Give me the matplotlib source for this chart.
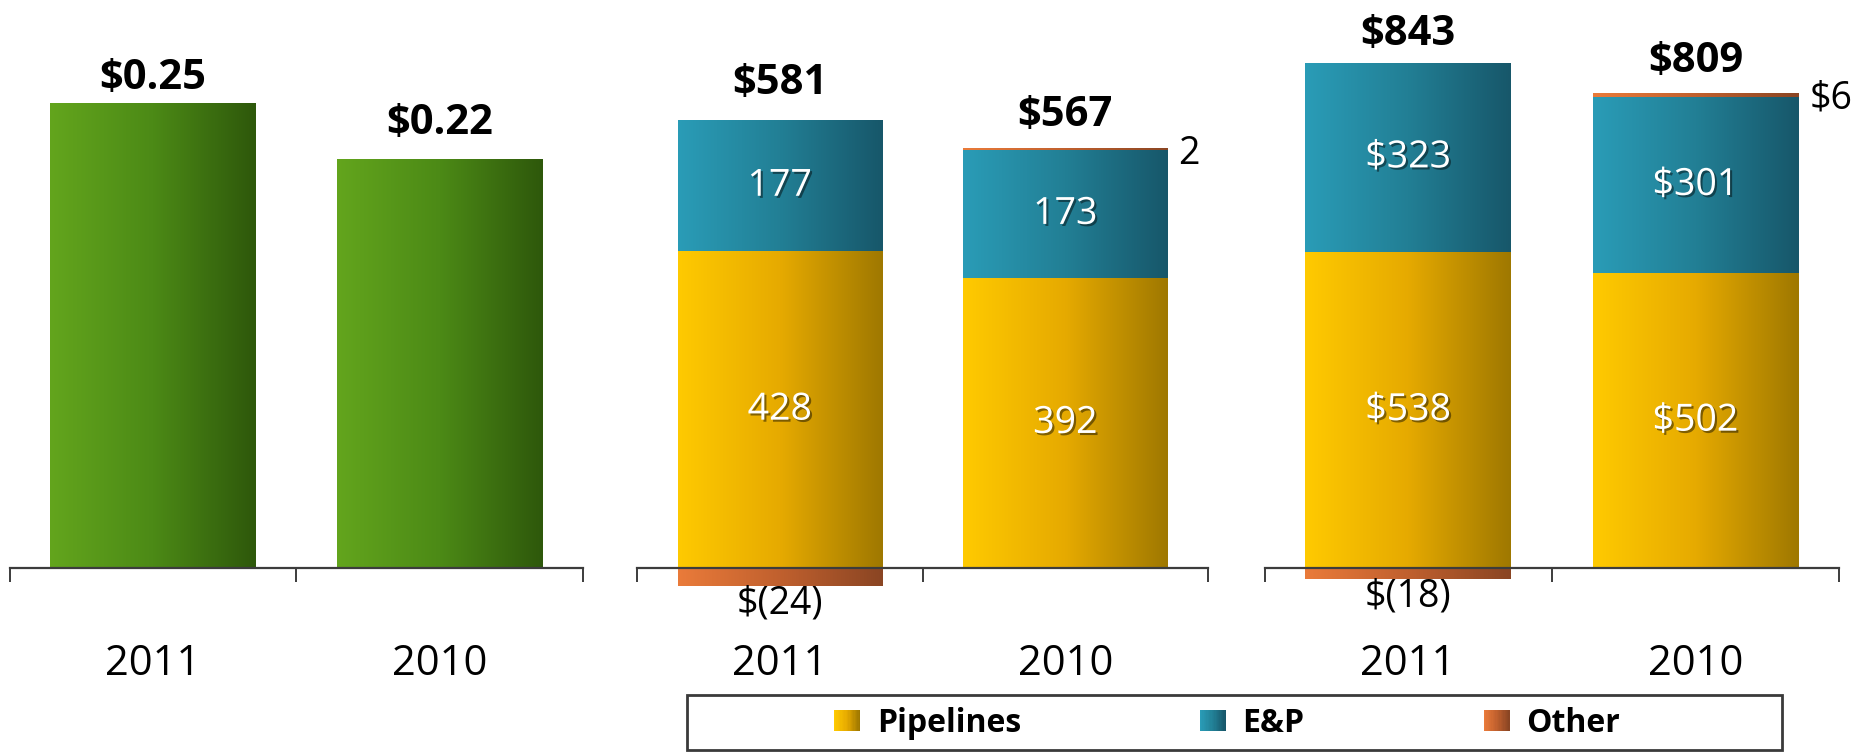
import numpy as np
import matplotlib
matplotlib.use("Agg")
import matplotlib.pyplot as plt
import matplotlib.patheffects as pe
from matplotlib.colors import LinearSegmentedColormap
from matplotlib.patches import Rectangle
from matplotlib.legend_handler import HandlerBase

plt.rcParams['font.family'] = ['Open Sans', 'DejaVu Sans']

# ---------------- data ----------------
years = ["2011", "2010"]
eps_values = [0.25, 0.22]
eps_labels = ["$0.25", "$0.22"]

p2_pipelines = [428, 392]
p2_ep = [177, 173]
p2_other = [-24, 2]
p2_pip_labels = ["428", "392"]
p2_ep_labels = ["177", "173"]
p2_other_labels = ["$(24)", "2"]

p3_pipelines = [538, 502]
p3_ep = [323, 301]
p3_other = [-18, 6]
p3_pip_labels = ["$538", "$502"]
p3_ep_labels = ["$323", "$301"]
p3_other_labels = ["$(18)", "$6"]

legend_labels = ["Pipelines", "E&P", "Other"]

# ---------------- style ----------------
cm_green = LinearSegmentedColormap.from_list("g", ["#63A51D", "#4C8A16", "#2E580B"])
cm_pip = LinearSegmentedColormap.from_list("p", ["#FFCA00", "#E6AA00", "#9F7800"])
cm_ep = LinearSegmentedColormap.from_list("e", ["#2A9CB7", "#227F95", "#17576A"])
cm_oth = LinearSegmentedColormap.from_list("o", ["#EA7B3A", "#C0602E", "#8A4523"])

# label offsets above bar tops (points), per panel
p1_total_offsets = [17.5, 25.5]
p2_total_offsets = [26.5, 24.0]
p3_total_offsets = [20.5, 22.5]

W, H = 1857, 752
fig = plt.figure(figsize=(W / 100, H / 100), dpi=100)

BAR_W = 0.715
zero_px = 184  # axis line pixel height from bottom


def make_axes(left_px, right_px, px_per_unit):
    ax = fig.add_axes([left_px / W, 0, (right_px - left_px) / W, 1])
    ax.set_facecolor("none")
    return ax, (-zero_px / px_per_unit, (H - zero_px) / px_per_unit)


def grad_fill(ax, bars, cmap):
    grad = np.linspace(0, 1, 256).reshape(1, -1)
    for b in bars:
        x0, y0 = b.get_x(), b.get_y()
        w, h = b.get_width(), b.get_height()
        im = ax.imshow(grad, extent=[x0, x0 + w, y0, y0 + h], cmap=cmap,
                       aspect="auto", zorder=b.get_zorder() + 0.1,
                       interpolation="bilinear")
        im.set_clip_path(b)


def finish_axes(ax, ylim):
    ax.set_xlim(-0.5, 1.5)
    ax.set_ylim(*ylim)
    for s in ["left", "right", "top"]:
        ax.spines[s].set_visible(False)
    ax.spines["bottom"].set_position(("data", 0))
    ax.spines["bottom"].set_color("#3c3c3c")
    ax.spines["bottom"].set_linewidth(1.6)
    ax.spines["bottom"].set_zorder(5)
    ax.set_yticks([])
    ax.set_xticks([0, 1])
    ax.set_xticklabels(years, fontsize=30)
    ax.set_xticks([-0.5, 0.5, 1.5], minor=True)
    ax.tick_params(axis="x", which="major", length=0, pad=54)
    ax.tick_params(axis="x", which="minor", length=10, width=1.4,
                   color="#3c3c3c", direction="out")


shadow = [pe.SimplePatchShadow(offset=(1.5, -1.5), shadow_rgbFace="black", alpha=0.45),
          pe.Normal()]

x = np.arange(2)

# ---------------- panel 1 ----------------
ax1, yl1 = make_axes(9.5, 583, 1861.0)
b = ax1.bar(x, eps_values, BAR_W, color="#4C8A16", zorder=2)
grad_fill(ax1, b, cm_green)
for xi, v, lab, off in zip(x, eps_values, eps_labels, p1_total_offsets):
    ax1.annotate(lab, (xi, v), xytext=(0, off), textcoords="offset points",
                 ha="center", va="center", fontsize=30, fontweight="bold")
finish_axes(ax1, yl1)


# ---------------- stacked panels ----------------
def stacked(ax, pip, ep, oth, pip_l, ep_l, oth_l, offs, ylim):
    pip = np.array(pip); ep = np.array(ep); oth = np.array(oth)
    bp = ax.bar(x, pip, BAR_W, color="#E6AA00", zorder=2)
    be = ax.bar(x, ep, BAR_W, bottom=pip, color="#227F95", zorder=2)
    ob = np.where(oth < 0, 0, pip + ep)
    bo = ax.bar(x, oth, BAR_W, bottom=ob, color="#C0602E", zorder=2)
    grad_fill(ax, bp, cm_pip)
    grad_fill(ax, be, cm_ep)
    grad_fill(ax, bo, cm_oth)
    for i in range(2):
        ax.text(x[i], pip[i] / 2, pip_l[i], ha="center", va="center",
                color="white", fontsize=27, zorder=6, path_effects=shadow)
        ax.text(x[i], pip[i] + ep[i] / 2, ep_l[i], ha="center", va="center",
                color="white", fontsize=27, zorder=6, path_effects=shadow)
        top = pip[i] + ep[i] + max(oth[i], 0)
        total = pip[i] + ep[i] + oth[i]
        ax.annotate(f"${total}", (x[i], top), xytext=(0, offs[i]),
                    textcoords="offset points", ha="center", va="center",
                    fontsize=30, fontweight="bold", zorder=6)
        if oth[i] < 0:
            ax.annotate(oth_l[i], (x[i], oth[i]), xytext=(0, 1),
                        textcoords="offset points", ha="center", va="top",
                        fontsize=27, zorder=6)
        else:
            ax.annotate(oth_l[i], (x[i] + BAR_W / 2, top), xytext=(8, -4),
                        textcoords="offset points", ha="left", va="center",
                        fontsize=27, zorder=6)
    finish_axes(ax, ylim)


ax2, yl2 = make_axes(637, 1208, 0.740)
stacked(ax2, p2_pipelines, p2_ep, p2_other, p2_pip_labels, p2_ep_labels,
        p2_other_labels, p2_total_offsets, yl2)

ax3, yl3 = make_axes(1264.5, 1839, 0.587)
stacked(ax3, p3_pipelines, p3_ep, p3_other, p3_pip_labels, p3_ep_labels,
        p3_other_labels, p3_total_offsets, yl3)


# ---------------- legend ----------------
class GradHandler(HandlerBase):
    def create_artists(self, legend, orig_handle, xdescent, ydescent,
                       width, height, fontsize, trans):
        n = 20
        arts = []
        for k in range(n):
            r = Rectangle((-xdescent + width * k / n, -ydescent), width / n + 0.3,
                          height, facecolor=orig_handle.cmap(k / (n - 1)),
                          edgecolor="none", transform=trans)
            arts.append(r)
        return arts


class GradKey:
    def __init__(self, cmap):
        self.cmap = cmap


keys = [GradKey(cm_pip), GradKey(cm_ep), GradKey(cm_oth)]
fig.patches.append(Rectangle((687 / W, 2 / H), (1782 - 687) / W, (750 - 695) / H,
                             transform=fig.transFigure, facecolor="white",
                             edgecolor="#3a3a3a", linewidth=2, zorder=0))
fig.legend(keys, legend_labels, handler_map={GradKey: GradHandler()},
           loc="center", bbox_to_anchor=(1227 / W, 29 / H), ncol=3,
           frameon=False, prop={"weight": "bold", "size": 23},
           handlelength=0.82, handleheight=0.63, handletextpad=0.52,
           columnspacing=5.6)

fig.savefig("out.png", dpi=100)
